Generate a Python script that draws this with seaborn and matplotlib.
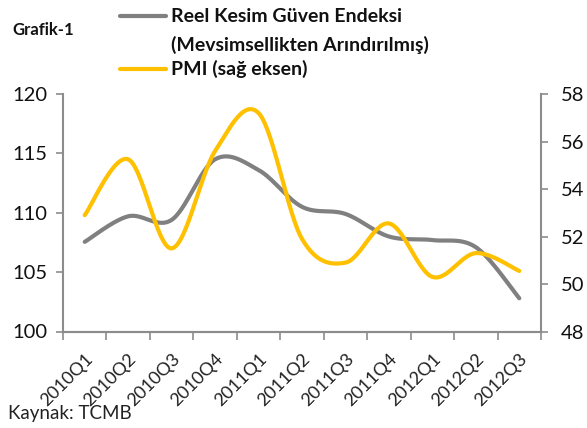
import numpy as np
import pandas as pd
import matplotlib.pyplot as plt
from matplotlib.lines import Line2D
import seaborn as sns

sns.set_theme(style='white')
plt.rcParams['font.family'] = ['Lato', 'DejaVu Sans']

# data
quarters = ['2010Q1', '2010Q2', '2010Q3', '2010Q4', '2011Q1', '2011Q2',
            '2011Q3', '2011Q4', '2012Q1', '2012Q2', '2012Q3']
reel_kesim = [107.55, 109.7, 109.4, 114.5, 113.6, 110.5, 109.9, 108.0, 107.7, 107.1, 102.8]
pmi = [52.9, 55.25, 51.5, 55.6, 57.2, 51.9, 50.9, 52.55, 50.3, 51.3, 50.55]

grey = '#808080'
yellow = '#FFC000'
axis_col = '#8c8c8c'


def smooth(yvals, n=30):
    # excel style smoothed line (catmull-rom through the points)
    x = np.arange(len(yvals), dtype=float)
    y = np.asarray(yvals, dtype=float)
    px = np.concatenate([[x[0]], x, [x[-1]]])
    py = np.concatenate([[y[0]], y, [y[-1]]])
    xs, ys = [], []
    for i in range(1, len(px) - 2):
        t = np.linspace(0, 1, n, endpoint=False)
        for arr, out in ((px, xs), (py, ys)):
            p0, p1, p2, p3 = arr[i - 1], arr[i], arr[i + 1], arr[i + 2]
            c1 = p1 + (p2 - p0) / 6
            c2 = p2 - (p3 - p1) / 6
            out.extend((1 - t) ** 3 * p1 + 3 * (1 - t) ** 2 * t * c1
                       + 3 * (1 - t) * t ** 2 * c2 + t ** 3 * p2)
    xs.append(x[-1])
    ys.append(y[-1])
    return pd.DataFrame({'x': xs, 'y': ys})


W, H = 587, 428
fig = plt.figure(figsize=(W / 100, H / 100), dpi=100)
ax = fig.add_axes([63 / W, 1 - 331.5 / H, (541 - 63) / W, (331.5 - 94) / H])
ax2 = ax.twinx()

sns.lineplot(data=smooth(reel_kesim), x='x', y='y', ax=ax, color=grey,
             lw=3.0, sort=False, estimator=None)
sns.lineplot(data=smooth(pmi), x='x', y='y', ax=ax2, color=yellow,
             lw=3.0, sort=False, estimator=None)

ax.set_xlim(-0.5, len(quarters) - 0.5)
ax.set_ylim(100, 120)
ax2.set_ylim(48, 58)
ax.set_yticks([100, 105, 110, 115, 120])
ax2.set_yticks([48, 50, 52, 54, 56, 58])
ax.set_xticks(np.arange(-0.5, len(quarters), 1))
ax.set_xticklabels([])
ax.set_xticks(np.arange(len(quarters)), minor=True)
ax.set_xticklabels(quarters, minor=True, rotation=45, ha='right',
                   rotation_mode='anchor', fontsize=13, color='#222222')
for a in (ax, ax2):
    a.set_xlabel('')
    a.set_ylabel('')
    a.spines['top'].set_visible(False)
    for s in ('left', 'right', 'bottom'):
        a.spines[s].set_color(axis_col)
        a.spines[s].set_linewidth(1.5)
ax.spines['right'].set_visible(False)
ax2.spines['left'].set_visible(False)
ax.tick_params(axis='x', which='major', length=6, width=1.2, color=axis_col,
               direction='out', bottom=True)
ax.tick_params(axis='x', which='minor', length=0, pad=14)
ax.tick_params(axis='y', length=5, width=1.2, color=axis_col, left=True,
               labelsize=14.5, labelcolor='#111111', pad=6)
ax2.tick_params(axis='y', length=5, width=1.2, color=axis_col, right=True,
                labelsize=14.5, labelcolor='#111111', pad=9)
ax.set_facecolor('none')
ax.grid(False)
ax2.grid(False)

# legend drawn by hand, like in the original
fig.add_artist(Line2D([120 / W, 166 / W], [1 - 16 / H, 1 - 16 / H], color=grey, lw=3.0))
fig.add_artist(Line2D([120 / W, 166 / W], [1 - 69 / H, 1 - 69 / H], color=yellow, lw=3.0))
fig.text(171 / W, 1 - 16 / H, 'Reel Kesim Güven Endeksi', fontsize=14,
         fontweight='bold', va='center', color='#111111')
fig.text(171 / W, 1 - 45 / H, '(Mevsimsellikten Arındırılmış)', fontsize=14,
         fontweight='bold', va='center', color='#111111')
fig.text(171 / W, 1 - 69 / H, 'PMI (sağ eksen)', fontsize=14,
         fontweight='bold', va='center', color='#111111')
fig.text(12 / W, 1 - 30 / H, 'Grafik-1', fontsize=12, fontweight='bold',
         va='center', color='#111111')
fig.text(8 / W, 1 - 413 / H, 'Kaynak: TCMB', fontsize=13.5, va='center',
         color='#222222')

fig.savefig('out.png', dpi=100, facecolor='white')
